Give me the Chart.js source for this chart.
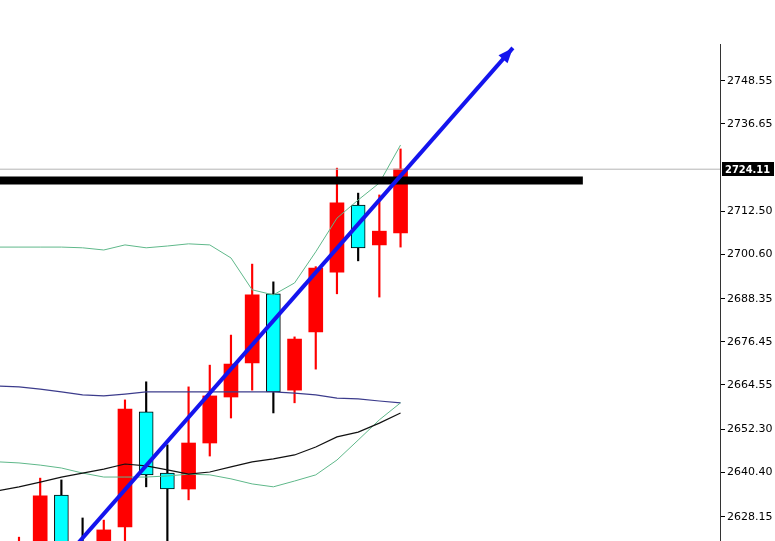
<!DOCTYPE html>
<html>
<head>
<meta charset="utf-8">
<script src="https://cdn.jsdelivr.net/npm/chart.js@4.4.1/dist/chart.umd.min.js"></script>
<style>
  body { margin: 0; background: #fff; }
  canvas { display: block; }
</style>
</head>
<body>
<canvas id="myChart" width="775" height="541"></canvas>
<script>
// candles (bar index, OHLC)
const bars   = [0, 1, 2, 3, 4, 5, 6, 7, 8, 9, 10, 11, 12, 13, 14, 15, 16, 17, 18]
const opens  = [2608, 2614, 2634.1, 2617, 2612, 2625.3, 2657.1, 2640.2, 2635.8, 2648.5, 2661.2, 2670.6, 2689.7, 2663.1, 2679.2, 2695.7, 2714.2, 2703.2, 2706.5]
const highs  = [2622.5, 2638.8, 2638.3, 2627.8, 2627.2, 2660.4, 2665.4, 2648.0, 2664.0, 2670.0, 2678.3, 2697.9, 2693.0, 2677.8, 2697.2, 2724.4, 2717.5, 2717.0, 2729.7]
const lows   = [2604, 2611, 2613, 2606, 2608, 2618, 2636.4, 2619, 2632.8, 2644.9, 2655.4, 2663.1, 2656.8, 2659.6, 2668.9, 2689.7, 2698.8, 2688.8, 2702.6]
const closes = [2615, 2633.9, 2617, 2612, 2624.5, 2657.9, 2639.7, 2635.8, 2648.5, 2661.5, 2670.3, 2689.4, 2662.6, 2677.2, 2696.8, 2714.8, 2702.4, 2707.0, 2724.11]

// indicators (start one bar before the first candle)
const lineBars  = [-1, 0, 1, 2, 3, 4, 5, 6, 7, 8, 9, 10, 11, 12, 13, 14, 15, 16, 17, 18]
const bandUpper = [2702.6, 2702.6, 2702.6, 2702.6, 2702.4, 2701.8, 2703.2, 2702.4, 2702.9, 2703.5, 2703.2, 2699.6, 2690.8, 2689.4, 2692.7, 2701.3, 2710.6, 2715.6, 2720.3, 2730.8]
const bandMid   = [2664.2, 2664.0, 2663.4, 2662.6, 2661.8, 2661.5, 2662.0, 2662.6, 2662.6, 2662.6, 2662.6, 2662.6, 2662.6, 2662.6, 2662.3, 2661.8, 2660.9, 2660.7, 2660.1, 2659.6]
const bandLower = [2643.3, 2643.0, 2642.4, 2641.6, 2640.2, 2639.1, 2639.1, 2639.1, 2639.4, 2639.9, 2639.7, 2638.6, 2637.2, 2636.4, 2638.0, 2639.7, 2643.8, 2649.3, 2654.9, 2659.6]
const maLine    = [2635.3, 2636.4, 2637.7, 2639.1, 2640.2, 2641.3, 2642.7, 2642.2, 2641.1, 2639.9, 2640.5, 2641.9, 2643.3, 2644.1, 2645.2, 2647.4, 2650.2, 2651.5, 2654.0, 2656.8]

// drawn objects
const trendX = [2, 23.3]
const trendY = [2615.6, 2757.6]
const levelX = [-1, 26.6]
const levelY = 2721.0
const lastPrice = 2724.11

// price axis
const tickVals   = [2748.55, 2736.65, 2712.50, 2700.60, 2688.35, 2676.45, 2664.55, 2652.30, 2640.40, 2628.15]
const tickLabels = ['2748.55', '2736.65', '2712.50', '2700.60', '2688.35', '2676.45', '2664.55', '2652.30', '2640.40', '2628.15']
const yMin = 2621.44
const yMax = 2758.68
const xMin = -0.896
const xMax = 33.07

const isUp = bars.map(i => closes[i] >= opens[i])
const toXY = (xs, ys) => xs.map((x, i) => ({ x: x, y: ys[i] }))

const extras = {
  id: 'extras',
  afterDatasetsDraw(chart) {
    const { ctx, scales: { x, y } } = chart
    const x1 = x.getPixelForValue(trendX[0]), y1 = y.getPixelForValue(trendY[0])
    const x2 = x.getPixelForValue(trendX[1]), y2 = y.getPixelForValue(trendY[1])
    const a = Math.atan2(y2 - y1, x2 - x1)
    const len = 15, half = 6
    ctx.save()
    ctx.fillStyle = '#1414ee'
    ctx.beginPath()
    ctx.moveTo(x2, y2)
    ctx.lineTo(x2 - len * Math.cos(a) + half * Math.sin(a), y2 - len * Math.sin(a) - half * Math.cos(a))
    ctx.lineTo(x2 - len * Math.cos(a) - half * Math.sin(a), y2 - len * Math.sin(a) + half * Math.cos(a))
    ctx.closePath()
    ctx.fill()
    ctx.restore()
  },
  afterDraw(chart) {
    const { ctx, chartArea, scales: { y } } = chart
    const py = Math.round(y.getPixelForValue(lastPrice))
    ctx.save()
    ctx.fillStyle = '#000'
    ctx.fillRect(chartArea.right + 2, py - 7, 52, 14)
    ctx.fillStyle = '#fff'
    ctx.font = 'bold 11px "DejaVu Sans Condensed", "Liberation Sans Narrow", "DejaVu Sans"'
    ctx.textBaseline = 'middle'
    ctx.fillText(lastPrice.toFixed(2), chartArea.right + 5, py + 1)
    ctx.restore()
  }
}

const ctx = document.getElementById('myChart')
const myChart = new Chart(ctx, {
  type: 'bar',
  data: {
    datasets: [
      {
        type: 'line', order: 0,
        data: toXY(trendX, trendY),
        borderColor: '#1414ee', borderWidth: 4, pointRadius: 0
      },
      {
        type: 'line', order: 1,
        data: toXY(levelX, [levelY, levelY]),
        borderColor: '#000', borderWidth: 8, pointRadius: 0, borderCapStyle: 'butt'
      },
      {
        type: 'line', order: 2,
        data: toXY(lineBars, maLine),
        borderColor: '#111', borderWidth: 1.2, pointRadius: 0
      },
      {
        type: 'line', order: 2,
        data: toXY(lineBars, bandUpper),
        borderColor: '#5fb88a', borderWidth: 1, pointRadius: 0
      },
      {
        type: 'line', order: 2,
        data: toXY(lineBars, bandLower),
        borderColor: '#5fb88a', borderWidth: 1, pointRadius: 0
      },
      {
        type: 'line', order: 2,
        data: toXY(lineBars, bandMid),
        borderColor: '#3c3c8c', borderWidth: 1.2, pointRadius: 0
      },
      {
        type: 'line', order: 3,
        data: toXY([-1, 40], [lastPrice, lastPrice]),
        borderColor: '#b4b4b4', borderWidth: 1, pointRadius: 0
      },
      {
        // bodies
        type: 'bar', order: 4, grouped: false,
        data: bars.map(i => ({ x: i, y: [opens[i], closes[i]] })),
        backgroundColor: isUp.map(u => u ? '#ff0000' : '#00ffff'),
        borderColor: '#000',
        borderWidth: isUp.map(u => u ? 0 : 1),
        borderSkipped: false,
        barThickness: 14
      },
      {
        // wicks
        type: 'bar', order: 5, grouped: false,
        data: bars.map(i => ({ x: i, y: [lows[i], highs[i]] })),
        backgroundColor: isUp.map(u => u ? '#ff0000' : '#000'),
        borderWidth: 0,
        barThickness: 1.5
      }
    ]
  },
  options: {
    responsive: false,
    animation: false,
    layout: { padding: { top: 44, left: 0, right: 0, bottom: 0 } },
    plugins: {
      legend: { display: false },
      tooltip: { enabled: false }
    },
    scales: {
      x: {
        type: 'linear', display: false, offset: false,
        min: xMin, max: xMax
      },
      y: {
        position: 'right',
        min: yMin, max: yMax,
        afterFit(scale) {
          scale.width = 55
          scale.paddingTop = 0
          scale.paddingBottom = 0
        },
        afterBuildTicks(scale) { scale.ticks = tickVals.map(v => ({ value: v })) },
        ticks: {
          autoSkip: false,
          padding: 2,
          color: '#000',
          font: { family: 'DejaVu Sans', size: 11 },
          callback: (v, i) => tickLabels[i]
        },
        grid: { drawOnChartArea: false, tickLength: 5, color: '#000' },
        border: { color: '#333', width: 1 }
      }
    }
  },
  plugins: [extras]
})
</script>
</body>
</html>
